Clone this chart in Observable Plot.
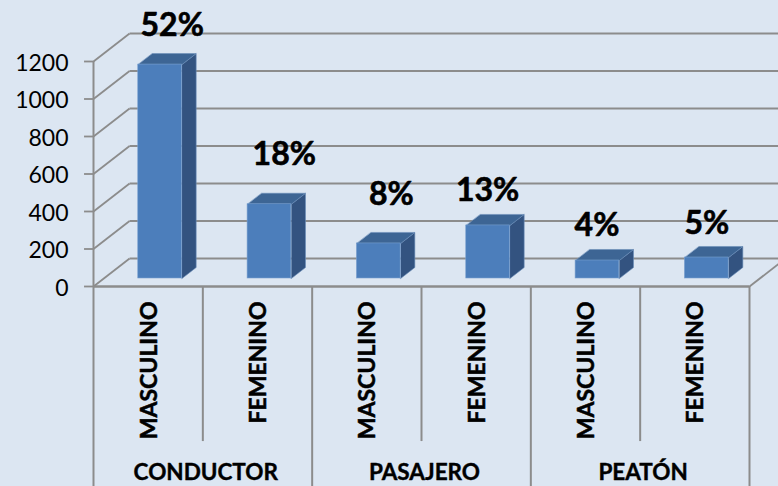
<!DOCTYPE html>
<html>
<head>
<meta charset="utf-8">
<script src="https://cdn.jsdelivr.net/npm/d3@7"></script>
<script src="https://cdn.jsdelivr.net/npm/@observablehq/plot@0.6"></script>
<style>
html,body{margin:0;padding:0;background:#dce6f2;overflow:hidden}
svg{display:block}
</style>
</head>
<body>
<div id="chart"></div>
<script>
const groups = ["CONDUCTOR", "PASAJERO", "PEATÓN"];
const sexes = ["MASCULINO", "FEMENINO", "MASCULINO", "FEMENINO", "MASCULINO", "FEMENINO"];
const values = [1141, 396, 187, 283, 96, 112];
const percents = ["52%", "18%", "8%", "13%", "4%", "5%"];
const labelX = [0.72, 1.745, 2.725, 3.605, 4.605, 5.61];
const labelY = [1392, 704, 491, 512, 325, 336];
const yTicks = [0, 200, 400, 600, 800, 1000, 1200];

// oblique projection: depth 0 = front plane, depth 1 = back wall
const DX = 0.33, DY = 149.3;
const px = (x, d) => x + d * DX;
const py = (v, d) => v + d * DY;
const dFront = 0.286, dBack = 0.679, half = 0.2, barShift = 0.015;
const catBottom = -827, groupBottom = -1100, sexLabelTop = -80, groupLabelY = -994;
const groupShift = 0.027, sexShift = 0.009, tickLen = 0.082;
const FONT = "Lato";
const GRID = "#8c8c8c";

const bars = values.map((v, i) => ({i, v, c: i + 0.5 + barShift}));
const side = bars.flatMap(b => [
  {b: b.i, x: px(b.c + half, dFront), y: py(0, dFront)},
  {b: b.i, x: px(b.c + half, dBack), y: py(0, dBack)},
  {b: b.i, x: px(b.c + half, dBack), y: py(b.v, dBack)},
  {b: b.i, x: px(b.c + half, dFront), y: py(b.v, dFront)}
]);
const top_ = bars.flatMap(b => [
  {b: b.i, x: px(b.c - half, dFront), y: py(b.v, dFront)},
  {b: b.i, x: px(b.c + half, dFront), y: py(b.v, dFront)},
  {b: b.i, x: px(b.c + half, dBack), y: py(b.v, dBack)},
  {b: b.i, x: px(b.c - half, dBack), y: py(b.v, dBack)}
]);

const chart = Plot.plot({
  width: 778, height: 486,
  marginLeft: 93, marginRight: 29, marginTop: 61, marginBottom: 200,
  style: {background: "#dce6f2", fontFamily: FONT},
  x: {domain: [0, 6], axis: null},
  y: {domain: [0, 1200], axis: null},
  marks: [
    // back wall grid
    Plot.link(yTicks, {x1: 0, y1: d => d, x2: px(0, 1), y2: d => py(d, 1), stroke: GRID, strokeWidth: 1.8}),
    Plot.link(yTicks, {x1: px(0, 1), y1: d => py(d, 1), x2: px(6, 1), y2: d => py(d, 1), stroke: GRID, strokeWidth: 1.8}),
    Plot.link([0], {x1: 6, y1: 0, x2: px(6, 1), y2: py(0, 1), stroke: GRID, strokeWidth: 1.8}),
    // bars
    Plot.line(side, {x: "x", y: "y", z: "b", curve: "linear-closed", fill: "#335380", stroke: "#6a8db8", strokeWidth: 0.6}),
    Plot.line(top_, {x: "x", y: "y", z: "b", curve: "linear-closed", fill: "#3d6594", stroke: "#6a8db8", strokeWidth: 0.6}),
    Plot.rect(bars, {x1: d => px(d.c - half, dFront), x2: d => px(d.c + half, dFront), y1: py(0, dFront), y2: d => py(d.v, dFront), fill: "#4c7ebb", stroke: "#7aa0cf", strokeWidth: 0.6}),
    // axes
    Plot.axisY({ticks: yTicks, tickFormat: d => String(d), tickSize: 0, tickPadding: 25, dy: 2, fill: "black", fontSize: 23, label: null, textStroke: "none"}),
    Plot.ruleY(yTicks, {x1: -tickLen, x2: 0, stroke: GRID, strokeWidth: 1.8}),
    Plot.ruleX([0], {y1: 1200, y2: groupBottom, stroke: GRID, strokeWidth: 2}),
    Plot.ruleX([2, 4, 6], {y1: 0, y2: groupBottom, stroke: GRID, strokeWidth: 2}),
    Plot.ruleX([1, 3, 5], {y1: 0, y2: catBottom, stroke: GRID, strokeWidth: 2}),
    Plot.ruleY([0], {x1: 0, x2: 6, stroke: GRID, strokeWidth: 2.4}),
    // category labels
    Plot.text(sexes, {x: (d, i) => i + 0.5 + sexShift, y: sexLabelTop, text: d => d, rotate: -90, textAnchor: "end", fontSize: 23, fontWeight: 700, fill: "black", stroke: "black", strokeWidth: 0.5}),
    Plot.text(groups, {x: (d, i) => 2 * i + 1 + groupShift, y: groupLabelY, text: d => d, fontSize: 22.5, fontWeight: 700, fill: "black", stroke: "black", strokeWidth: 0.4}),
    // percentages
    Plot.text(percents, {x: (d, i) => labelX[i], y: (d, i) => labelY[i], text: d => d, fontSize: 32, fontWeight: 700, fill: "black", stroke: "black", strokeWidth: 0.6})
  ]
});
document.getElementById("chart").append(chart);
</script>
</body>
</html>
